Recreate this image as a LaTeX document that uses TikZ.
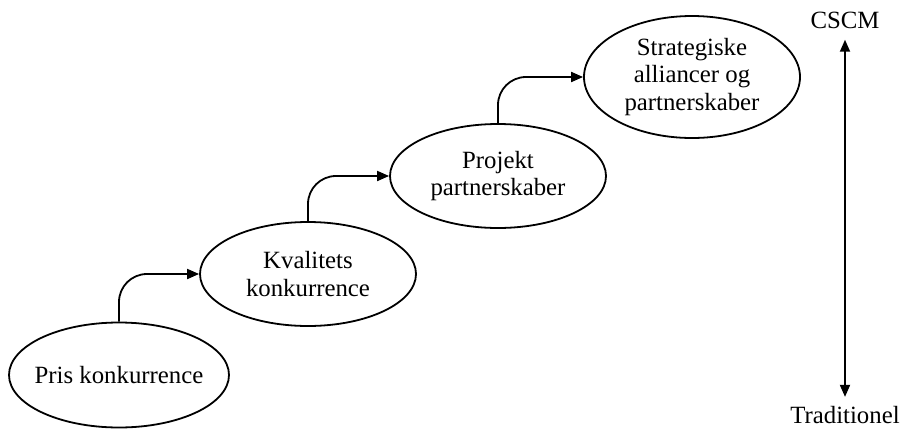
\documentclass[tikz,border=0pt]{standalone}
\usepackage{fontspec}
\setmainfont{Liberation Serif}
\usetikzlibrary{shapes.geometric,arrows.meta}
\tikzset{
  stage/.style={draw, ellipse, line width=0.9pt, minimum width=108pt, minimum height=52pt, inner sep=-5pt, align=center, font=\fontsize{12.4}{13.6}\selectfont},
  flow/.style={-{Triangle[length=6pt,width=5pt]}, line width=0.9pt, rounded corners=14pt},
  pole/.style={inner sep=5.5pt, font=\fontsize{12.4}{13.6}\selectfont},
}

\begin{document}
\begin{tikzpicture}[x=0.5pt, y=-0.5pt]
                \useasboundingbox (0,0) rectangle (900,429);
                \node[stage, minimum width=110pt, minimum height=52.5pt] (pris) at (119,375) {Pris konkurrence};
                \node[stage] (kvalitet) at (308,274) {Kvalitets\\konkurrence};
                \node[stage] (projekt) at (498,176) {Projekt\\partnerskaber};
                \node[stage, minimum height=61pt] (strategi) at (692,77) {Strategiske\\alliancer og\\partnerskaber};
                \draw[flow] (pris.north) |- (kvalitet.west);
                \draw[flow] (kvalitet.north) |- (projekt.west);
                \draw[flow] (projekt.north) |- (strategi.west);
                \node[pole] (cscm) at (845,20) {CSCM};
                \node[pole, inner ysep=4.5pt] (trad) at (845,415) {Traditionel};
                \draw[{Triangle[length=6pt,width=5pt]}-{Triangle[length=6pt,width=5pt]}, line width=0.9pt] (cscm) -- (trad);
            \end{tikzpicture}
\end{document}
